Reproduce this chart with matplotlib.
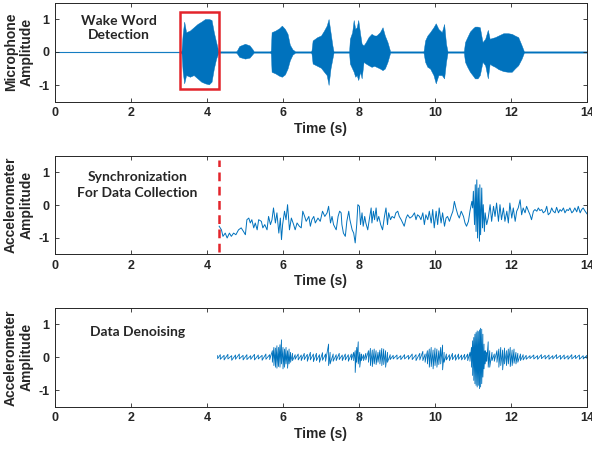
import matplotlib
matplotlib.use("Agg")
import matplotlib.pyplot as plt
import numpy as np

# ---------------- data ----------------
# Panel 1: microphone waveform envelope (time, upper, lower)
mic_t = [0.00, 3.30,
         3.33, 3.36, 3.40, 3.45, 3.55, 3.65, 3.75, 3.85, 3.95, 4.05, 4.12, 4.18, 4.24, 4.30,
         4.75, 4.78, 4.85, 5.00, 5.12, 5.20, 5.23,
         5.66, 5.68, 5.70, 5.80, 5.90, 5.97, 6.05, 6.12, 6.18, 6.25, 6.32,
         6.73, 6.75, 6.78, 6.90, 7.00, 7.08, 7.15, 7.20, 7.25, 7.30, 7.33,
         7.72, 7.74, 7.76, 7.82, 7.86, 7.90, 7.94, 7.98, 8.03, 8.07, 8.12, 8.18, 8.25,
         8.33, 8.40, 8.46, 8.55, 8.62, 8.68, 8.75, 8.82,
         9.68, 9.70, 9.74, 9.80, 9.87, 9.96, 10.02, 10.09, 10.18, 10.24, 10.29, 10.33,
         10.74, 10.76, 10.79, 10.85, 10.92, 11.00, 11.05, 11.12, 11.18, 11.25, 11.32,
         11.39, 11.44, 11.49, 11.58, 11.67, 11.80, 11.92, 12.02, 12.10, 12.19, 12.28,
         12.34, 14.00]
mic_hi = [0.01, 0.012,
          0.05, 0.55, 0.92, 0.60, 0.65, 0.75, 0.85, 0.92, 1.00, 1.00, 0.97, 0.60, 0.30, 0.02,
          0.02, 0.03, 0.18, 0.25, 0.20, 0.08, 0.02,
          0.02, 0.05, 0.60, 0.65, 0.72, 0.80, 0.70, 0.55, 0.22, 0.08, 0.02,
          0.02, 0.05, 0.35, 0.45, 0.50, 0.65, 0.80, 1.00, 0.60, 0.20, 0.02,
          0.02, 0.03, 0.40, 0.60, 0.97, 0.70, 0.75, 0.97, 0.55, 0.25, 0.20, 0.30, 0.45,
          0.55, 0.50, 0.50, 0.60, 0.75, 0.50, 0.30, 0.02,
          0.02, 0.03, 0.35, 0.50, 0.60, 0.75, 0.87, 0.70, 0.60, 0.85, 0.25, 0.02,
          0.02, 0.03, 0.30, 0.45, 0.62, 0.72, 0.77, 0.77, 0.75, 0.30, 0.40,
          0.67, 0.40, 0.42, 0.45, 0.50, 0.57, 0.57, 0.55, 0.50, 0.45, 0.20,
          0.02, 0.02]
mic_lo = [-0.01, -0.012,
          -0.05, -0.60, -0.95, -0.70, -0.75, -0.70, -0.80, -0.90, -0.95, -0.98, -0.90, -0.50, -0.20, -0.02,
          -0.02, -0.03, -0.15, -0.20, -0.17, -0.06, -0.02,
          -0.02, -0.05, -0.60, -0.65, -0.72, -0.75, -0.68, -0.50, -0.25, -0.08, -0.02,
          -0.02, -0.05, -0.35, -0.42, -0.48, -0.60, -0.70, -1.00, -0.50, -0.20, -0.02,
          -0.02, -0.03, -0.35, -0.50, -0.60, -0.75, -0.70, -0.85, -0.60, -0.80, -0.30, -0.35, -0.40,
          -0.45, -0.42, -0.45, -0.50, -0.55, -0.50, -0.30, -0.02,
          -0.02, -0.03, -0.30, -0.45, -0.50, -0.70, -0.95, -0.70, -0.70, -0.80, -0.30, -0.02,
          -0.02, -0.03, -0.30, -0.45, -0.60, -0.72, -0.80, -0.80, -0.70, -0.30, -0.40,
          -0.80, -0.35, -0.40, -0.45, -0.52, -0.58, -0.60, -0.60, -0.50, -0.40, -0.20,
          -0.02, -0.02]

# Panel 2: raw accelerometer trace (time, amplitude)
acc_t = [4.32, 4.38, 4.42, 4.48, 4.53, 4.59, 4.64, 4.70, 4.76, 4.83, 4.90, 4.96, 5.01, 5.05,
         5.10, 5.14, 5.18, 5.23, 5.27, 5.32, 5.36, 5.43, 5.47, 5.52, 5.58, 5.62, 5.67, 5.71,
         5.75, 5.80, 5.84, 5.89, 5.93, 5.96, 5.99, 6.04, 6.08, 6.12, 6.17, 6.22, 6.28, 6.32,
         6.37, 6.43, 6.48, 6.52, 6.57, 6.61, 6.68, 6.72, 6.76, 6.81, 6.85, 6.92, 6.98, 7.04,
         7.10, 7.16, 7.20, 7.25, 7.29, 7.33, 7.40, 7.45, 7.49, 7.53, 7.55, 7.59, 7.64, 7.68,
         7.73, 7.76, 7.82, 7.86, 7.90, 7.94, 7.97, 8.01, 8.04, 8.08, 8.11, 8.15, 8.18, 8.23,
         8.27, 8.32, 8.34, 8.38, 8.41, 8.45, 8.48, 8.52, 8.57, 8.62, 8.67, 8.71, 8.75, 8.78,
         8.83, 8.87, 8.93, 8.97, 9.02, 9.06, 9.11, 9.15, 9.19, 9.24, 9.28, 9.34, 9.40, 9.46,
         9.50, 9.54, 9.59, 9.63, 9.68, 9.72, 9.76, 9.81, 9.85, 9.90, 9.94, 9.98, 10.03, 10.07,
         10.11, 10.16, 10.20, 10.25, 10.29, 10.33, 10.38, 10.42, 10.47, 10.51, 10.55, 10.60,
         10.64, 10.69, 10.73, 10.75, 10.79, 10.83, 10.88, 10.92, 10.97, 10.99, 11.01, 11.04,
         11.06, 11.08, 11.10, 11.12, 11.14, 11.17, 11.18, 11.20, 11.23, 11.25, 11.27, 11.30,
         11.32, 11.36, 11.40, 11.45, 11.49, 11.54, 11.58, 11.62, 11.67, 11.71, 11.75, 11.80,
         11.84, 11.89, 11.93, 11.97, 12.02, 12.06, 12.11, 12.15, 12.19, 12.24, 12.28, 12.32,
         12.37, 12.41, 12.46, 12.50, 12.54, 12.59, 12.63, 12.68, 12.72, 12.76, 12.81, 12.85,
         12.90, 12.94, 12.98, 13.03, 13.07, 13.11, 13.16, 13.20, 13.25, 13.29, 13.33, 13.38,
         13.42, 13.47, 13.51, 13.55, 13.60, 13.64, 13.68, 13.73, 13.77, 13.82, 13.86, 13.90,
         13.95, 14.00]
acc_a = [-0.65, -0.76, -0.96, -0.86, -1.01, -0.86, -0.96, -0.86, -0.91, -0.76, -0.70, -0.81, -0.91, -0.45,
         -0.40, -0.55, -0.45, -0.70, -0.55, -0.76, -0.45, -0.50, -0.70, -0.60, -0.76, -0.35, -0.60, -0.45,
         -0.09, -0.55, -0.24, -0.86, -0.40, -1.06, -0.60, -0.19, -0.45, 0.01, -0.76, -0.40, -0.60, -0.76,
         -0.55, -0.65, -0.70, -0.19, -0.35, -0.50, -0.35, -0.65, -0.45, -0.35, -0.55, -0.40, -0.50, -0.19,
         -0.35, -0.24, -0.04, -0.55, -0.35, -0.60, -0.76, -0.35, -0.19, -0.24, -0.60, -0.86, -0.96, -0.50,
         -0.19, -0.45, -0.76, -0.86, -1.16, -0.60, 0.01, -0.04, -0.60, -0.24, -0.65, -0.35, -0.55, -0.76,
         -0.45, -0.09, -0.55, -0.19, -0.45, -0.09, -0.50, -0.35, -0.60, -0.76, -0.35, -0.09, -0.60, -0.24,
         -0.45, -0.35, -0.40, -0.24, -0.19, -0.35, -0.45, -0.55, -0.65, -0.40, -0.30, -0.40, -0.35, -0.24,
         -0.45, -0.30, -0.35, -0.45, -0.24, -0.60, -0.30, -0.45, -0.19, -0.55, -0.14, -0.70, -0.19, -0.60,
         -0.09, -0.55, -0.24, -0.65, -0.40, -0.35, -0.50, -0.35, -0.19, 0.11, -0.09, -0.30,
         -0.40, -0.19, -0.30, -0.35, -0.55, -0.65, -0.50, -0.19, 0.11, -0.09, 0.42, -0.60,
         0.62, -0.81, 0.77, -1.01, 0.52, -1.11, 0.62, -0.91, 0.52, -0.70, 0.01, -0.81,
         -0.24, -0.60, -0.40, 0.01, -0.50, -0.04, -0.35, 0.06, -0.50, 0.01, -0.45, -0.09,
         -0.50, -0.19, -0.55, 0.06, -0.40, -0.09, -0.50, -0.19, -0.09, 0.16, -0.30, -0.09,
         -0.24, -0.04, -0.19, -0.30, -0.45, -0.19, -0.14, -0.19, -0.09, -0.17, -0.14, -0.24,
         -0.19, -0.04, -0.30, -0.24, -0.09, -0.19, -0.24, -0.07, -0.24, -0.14, -0.19, -0.09,
         -0.24, -0.14, -0.17, -0.09, -0.24, -0.19, -0.09, -0.21, -0.04, -0.24, -0.14, -0.09,
         -0.19, -0.27]

# Panel 3: denoised accelerometer, local max / min per window (time, upper, lower)
den_t = [4.28, 4.35, 4.45, 4.55, 4.65, 4.75, 4.85, 4.95, 5.05, 5.15, 5.25, 5.35, 5.45, 5.55, 5.65,
         5.72, 5.76, 5.80, 5.84, 5.88, 5.92, 5.96, 6.00, 6.04, 6.08, 6.12, 6.16, 6.20, 6.25,
         6.32, 6.40, 6.48, 6.56, 6.64, 6.72, 6.80, 6.88, 6.96, 7.04, 7.12, 7.20, 7.24, 7.32,
         7.40, 7.48, 7.56, 7.64, 7.72, 7.80, 7.86, 7.90, 7.94, 7.98, 8.02, 8.06, 8.12, 8.18,
         8.25, 8.30, 8.35, 8.40, 8.45, 8.50, 8.55, 8.60, 8.65, 8.70, 8.75,
         8.82, 8.90, 9.00, 9.10, 9.20, 9.30, 9.40, 9.50, 9.60, 9.68, 9.74,
         9.80, 9.85, 9.90, 9.95, 10.00, 10.05, 10.10, 10.15, 10.20, 10.24,
         10.30, 10.38, 10.46, 10.54, 10.62, 10.70, 10.78, 10.86, 10.92,
         10.96, 10.99, 11.02, 11.05, 11.08, 11.11, 11.14, 11.17, 11.20, 11.23, 11.26, 11.29,
         11.32, 11.36, 11.40, 11.44, 11.50, 11.56,
         11.63, 11.68, 11.73, 11.78, 11.83, 11.88, 11.93, 11.98, 12.03, 12.08, 12.13, 12.18,
         12.25, 12.32, 12.40, 12.50, 12.60, 12.70, 12.80, 12.90, 13.00, 13.10, 13.20, 13.30,
         13.40, 13.50, 13.60, 13.70, 13.80, 13.90, 14.00]
den_hi = [0.05, 0.08, 0.06, 0.09, 0.05, 0.07, 0.10, 0.06, 0.08, 0.05, 0.09, 0.07, 0.06, 0.10, 0.08,
          0.20, 0.30, 0.28, 0.35, 0.30, 0.38, 0.53, 0.30, 0.25, 0.30, 0.20, 0.25, 0.15, 0.12,
          0.08, 0.10, 0.07, 0.12, 0.09, 0.15, 0.10, 0.12, 0.08, 0.14, 0.10, 0.40, 0.15, 0.10,
          0.08, 0.12, 0.07, 0.10, 0.08, 0.10, 0.15, 0.20, 0.30, 0.47, 0.15, 0.10, 0.08, 0.12,
          0.20, 0.27, 0.22, 0.25, 0.20, 0.15, 0.22, 0.27, 0.25, 0.20, 0.15,
          0.08, 0.06, 0.07, 0.05, 0.08, 0.06, 0.10, 0.08, 0.12, 0.18, 0.10,
          0.20, 0.25, 0.30, 0.22, 0.28, 0.25, 0.20, 0.30, 0.37, 0.15,
          0.10, 0.08, 0.12, 0.08, 0.10, 0.07, 0.09, 0.10, 0.15,
          0.30, 0.50, 0.60, 0.70, 0.75, 0.80, 0.78, 0.83, 0.88, 0.85, 0.70, 0.40,
          0.20, 0.15, 0.47, 0.20, 0.15, 0.10,
          0.20, 0.25, 0.30, 0.22, 0.28, 0.20, 0.25, 0.30, 0.22, 0.25, 0.15, 0.12,
          0.10, 0.08, 0.06, 0.05, 0.07, 0.05, 0.08, 0.06, 0.07, 0.05, 0.08, 0.06,
          0.07, 0.05, 0.08, 0.06, 0.07, 0.05, 0.06]
den_lo = [-0.04, -0.06, -0.08, -0.05, -0.09, -0.06, -0.05, -0.08, -0.07, -0.06, -0.08, -0.05, -0.09, -0.06, -0.07,
          -0.15, -0.25, -0.30, -0.33, -0.28, -0.30, -0.20, -0.35, -0.30, -0.20, -0.33, -0.20, -0.15, -0.10,
          -0.06, -0.08, -0.10, -0.07, -0.12, -0.08, -0.13, -0.10, -0.15, -0.09, -0.12, -0.25, -0.20, -0.12,
          -0.10, -0.07, -0.10, -0.08, -0.12, -0.08, -0.10, -0.46, -0.15, -0.20, -0.30, -0.10, -0.10, -0.08,
          -0.15, -0.25, -0.28, -0.20, -0.22, -0.15, -0.20, -0.25, -0.22, -0.30, -0.15,
          -0.07, -0.05, -0.06, -0.07, -0.05, -0.06, -0.07, -0.10, -0.08, -0.10, -0.15,
          -0.20, -0.30, -0.28, -0.35, -0.25, -0.30, -0.22, -0.20, -0.38, -0.15,
          -0.08, -0.10, -0.07, -0.09, -0.06, -0.08, -0.07, -0.10, -0.12,
          -0.30, -0.55, -0.70, -0.80, -0.85, -0.90, -0.85, -0.95, -0.90, -0.80, -0.60, -0.35,
          -0.20, -0.12, -0.30, -0.30, -0.10, -0.12,
          -0.15, -0.30, -0.25, -0.38, -0.20, -0.25, -0.20, -0.28, -0.25, -0.18, -0.20, -0.15,
          -0.10, -0.08, -0.06, -0.04, -0.05, -0.06, -0.04, -0.05, -0.06, -0.05, -0.04, -0.06,
          -0.05, -0.06, -0.05, -0.04, -0.06, -0.05, -0.04]

x_ticks = [0, 2, 4, 6, 8, 10, 12, 14]
y_ticks = [-1, 0, 1]
wake_box = (3.29, 4.32, -1.13, 1.22)   # t0, t1, a0, a1
sync_time = 4.31

# ---------------- style ----------------
BLUE = "#0072BD"
RED = "#E3242B"
DARK = "#262626"
TICKFONT = "Liberation Sans"
NOTEFONT = "Lato"

fig = plt.figure(figsize=(5.92, 4.51), dpi=100)
W, H = 592.0, 451.0
def add_ax(top, bottom):
    return fig.add_axes([55 / W, (H - bottom) / H, 532 / W, (bottom - top) / H])

ax1 = add_ax(2.5, 101.5)
ax2 = add_ax(156.0, 254.0)
ax3 = add_ax(307.8, 406.8)

for ax, ylab in [(ax1, "Microphone\nAmplitude"),
                 (ax2, "Accelerometer\nAmplitude"),
                 (ax3, "Accelerometer\nAmplitude")]:
    ax.set_xlim(0, 14)
    ax.set_ylim(-1.5, 1.5)
    ax.set_xticks(x_ticks)
    ax.set_yticks(y_ticks)
    ax.set_xticklabels([str(v) for v in x_ticks], fontfamily=TICKFONT, fontweight="bold",
                       fontsize=9, color=DARK)
    ax.set_yticklabels([str(v) for v in y_ticks], fontfamily=TICKFONT, fontweight="bold",
                       fontsize=9, color=DARK)
    ax.tick_params(direction="in", top=True, right=True, length=3, width=0.6,
                   colors=DARK, pad=4)
    for s in ax.spines.values():
        s.set_linewidth(0.7)
        s.set_color(DARK)
    ax.set_xlabel("Time (s)", fontfamily=TICKFONT, fontweight="bold", fontsize=10,
                  color=DARK, labelpad=2)
    ax.set_ylabel(ylab, fontfamily=TICKFONT, fontweight="bold", fontsize=10,
                  color=DARK, labelpad=3, linespacing=1.2)

# Panel 1
ax1.fill_between(mic_t, mic_lo, mic_hi, color=BLUE, lw=0.3, edgecolor=BLUE)
t0, t1, a0, a1 = wake_box
ax1.add_patch(plt.Rectangle((t0, a0), t1 - t0, a1 - a0, fill=False, edgecolor=RED,
                            lw=1.8, zorder=5))
ax1.text(1.67, 0.72, "Wake Word\nDetection", ha="center", va="center", fontfamily=NOTEFONT,
         fontweight="bold", fontsize=10, color=DARK, linespacing=1.25)

# Panel 2
ax2.plot(acc_t, acc_a, color=BLUE, lw=0.7)
ax2.plot([sync_time, sync_time], [-1.43, 1.38], color=RED, lw=1.8, ls=(0, (3.5, 2.2)))
ax2.text(2.17, 0.61, "Synchronization\nFor Data Collection", ha="center", va="center",
         fontfamily=NOTEFONT, fontweight="bold", fontsize=10, color=DARK, linespacing=1.35)

# Panel 3
den_x = np.repeat(np.array(den_t), 2)
den_y = np.column_stack([den_hi, den_lo]).ravel()
ax3.plot(den_x, den_y, color=BLUE, lw=0.6)
ax3.text(2.18, 0.77, "Data Denoising", ha="center", va="center", fontfamily=NOTEFONT,
         fontweight="bold", fontsize=10, color=DARK)

fig.savefig("out.png", dpi=100)
